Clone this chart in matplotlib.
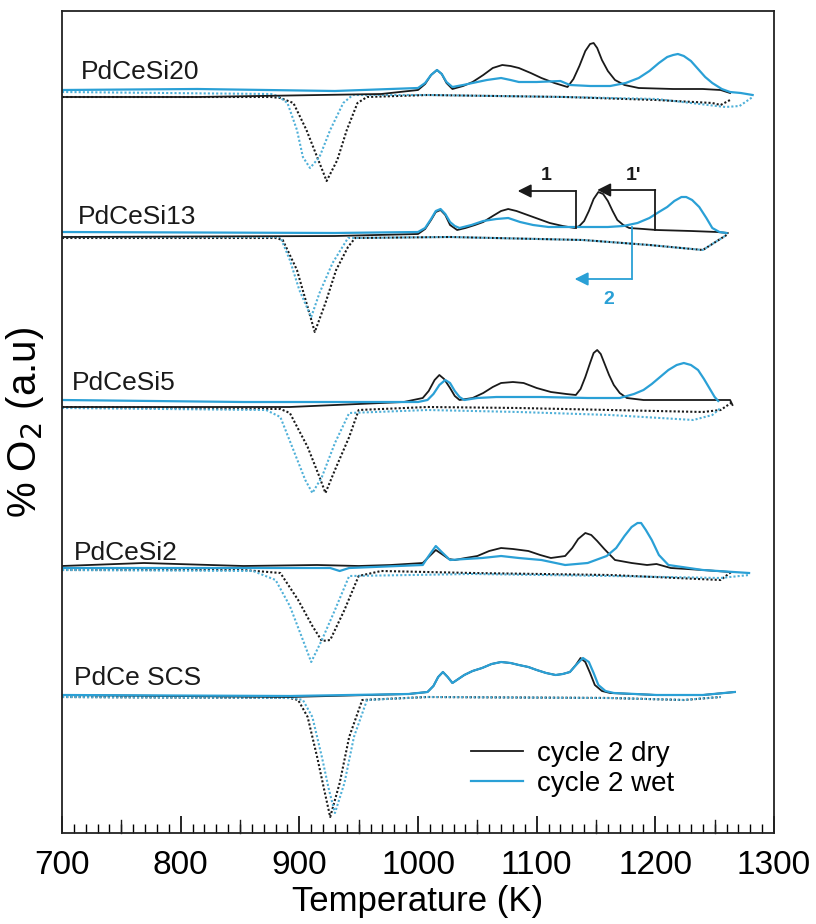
import matplotlib
matplotlib.use('Agg')
import matplotlib.pyplot as plt
from matplotlib.lines import Line2D
from matplotlib.ticker import MultipleLocator

plt.rcParams['font.family'] = ['Liberation Sans', 'DejaVu Sans']

# temperature (K) and O2 signal (a.u., relative to each trace's baseline)
si20_dry_T = [700, 814, 969, 1000, 1006, 1011, 1016, 1020, 1024, 1029, 1038, 1046, 1055, 1063, 1071, 1078, 1085, 1095, 1104, 1115,
              1126, 1131, 1136, 1141, 1145, 1148, 1151, 1155, 1160, 1166, 1174, 1186, 1215, 1240, 1255, 1263]
si20_dry_v = [-4, -4, -1, 3, 9, 18, 23, 19, 10, 4, 7, 11, 18, 25, 28, 27, 25, 20, 15, 10,
              6, 14, 27, 42, 49, 50, 45, 33, 22, 13, 8, 5, 4, 4, 3, 0]
si20_wet_T = [700, 814, 930, 1000, 1006, 1011, 1016, 1020, 1024, 1029, 1038, 1046, 1058, 1070, 1078, 1085, 1100, 1120, 1128, 1145,
              1162, 1175, 1186, 1195, 1203, 1210, 1215, 1219, 1224, 1230, 1236, 1242, 1248, 1256, 1263, 1272, 1282]
si20_wet_v = [3, 4, 2, 5, 10, 18, 23, 19, 11, 6, 8, 10, 13, 15, 13, 11, 11, 12, 8, 7,
              7, 10, 15, 22, 30, 36, 38, 39, 37, 32, 24, 16, 10, 4, 1, 0, -2]
si20_dry_dot_T = [700, 876, 884, 895, 906, 915, 923, 932, 940, 949, 957, 1008, 1124, 1201, 1248, 1255, 1263]
si20_dry_dot_v = [-4, -4, -5, -10, -37, -64, -88, -67, -37, -10, -4, -2, -4, -7, -10, -12, -7]
si20_wet_dot_T = [700, 876, 882, 890, 898, 903, 909, 917, 926, 937, 945, 1008, 1124, 1201, 1259, 1271, 1282]
si20_wet_dot_v = [1, -1, -3, -10, -37, -64, -75, -64, -37, -10, -2, -2, -4, -6, -14, -13, -4]

si13_dry_T = [700, 930, 1000, 1006, 1011, 1015, 1019, 1023, 1027, 1033, 1040, 1048, 1055, 1063, 1070, 1076, 1083, 1090, 1097, 1104,
              1111, 1122, 1132, 1136, 1140, 1144, 1148, 1152, 1156, 1160, 1164, 1168, 1173, 1178, 1190, 1201, 1230, 1252, 1261]
si13_dry_v = [-2, -1, 1, 6, 15, 23, 25, 20, 10, 5, 7, 10, 13, 19, 24, 26, 24, 21, 18, 15,
              12, 9, 7, 9, 14, 24, 36, 43, 41, 34, 24, 15, 10, 7, 6, 5, 4, 3, 2]
si13_wet_T = [700, 930, 1000, 1006, 1011, 1015, 1019, 1023, 1027, 1031, 1035, 1045, 1055, 1066, 1076, 1086, 1097, 1110, 1139, 1160,
              1173, 1185, 1195, 1203, 1210, 1216, 1222, 1226, 1231, 1237, 1243, 1248, 1254, 1260]
si13_wet_v = [3, 2, 3, 7, 16, 24, 26, 21, 13, 9, 7, 10, 14, 16, 17, 13, 10, 8, 8, 8,
              9, 12, 17, 23, 28, 34, 38, 38, 35, 28, 17, 7, 3, 2]
si13_dry_dot_T = [700, 880, 886, 898, 906, 913, 922, 931, 941, 947, 1027, 1139, 1195, 1240, 1260]
si13_dry_dot_v = [-3, -3, -5, -35, -68, -97, -68, -35, -12, -3, -2, -5, -10, -15, 0]
si13_wet_dot_T = [700, 878, 884, 892, 900, 910, 917, 928, 941, 1027, 1139, 1195, 1240, 1260]
si13_wet_dot_v = [-2, -2, -2, -25, -55, -82, -58, -28, -3, -2, -5, -10, -15, 0]

si5_dry_T = [700, 892, 988, 1004, 1009, 1014, 1018, 1022, 1027, 1031, 1035, 1046, 1055, 1063, 1070, 1080, 1089, 1100, 1112, 1125,
             1133, 1137, 1141, 1145, 1148, 1151, 1154, 1157, 1161, 1165, 1170, 1176, 1190, 1201, 1240, 1263, 1265]
si5_dry_v = [-4, -4, 1, 5, 12, 23, 28, 24, 15, 7, 3, 5, 10, 16, 20, 21, 20, 15, 11, 9,
             8, 14, 26, 40, 50, 53, 49, 40, 28, 18, 10, 5, 3, 3, 3, 3, -2]
si5_wet_T = [700, 853, 1000, 1008, 1013, 1018, 1023, 1027, 1031, 1035, 1039, 1050, 1066, 1085, 1104, 1143, 1170, 1182, 1190, 1197,
             1204, 1211, 1218, 1224, 1230, 1236, 1241, 1246, 1250, 1253]
si5_wet_v = [3, 1, 1, 3, 9, 18, 23, 20, 12, 6, 3, 5, 6, 6, 6, 5, 5, 9, 13, 19,
             26, 33, 38, 40, 38, 33, 24, 14, 6, 2]
si5_dry_dot_T = [700, 884, 892, 907, 917, 922, 930, 942, 950, 1008, 1085, 1162, 1240, 1255, 1265]
si5_dry_dot_v = [-4, -6, -10, -44, -74, -90, -67, -34, -7, -4, -5, -7, -9, -7, 1]
si5_wet_dot_T = [700, 872, 884, 895, 905, 911, 919, 930, 942, 1008, 1085, 1162, 1232, 1248, 1255]
si5_wet_dot_v = [-5, -7, -14, -47, -77, -90, -74, -40, -10, -7, -9, -12, -17, -12, -5]

si2_dry_T = [700, 769, 853, 915, 950, 977, 1004, 1009, 1015, 1020, 1026, 1031, 1040, 1050, 1060, 1070, 1080, 1093, 1103, 1112,
             1124, 1130, 1135, 1141, 1146, 1151, 1157, 1166, 1180, 1193, 1201, 1213, 1240, 1263]
si2_dry_v = [2, 5, 2, 3, 2, 3, 5, 11, 18, 14, 9, 8, 10, 12, 17, 20, 19, 17, 13, 10,
             12, 20, 29, 35, 33, 27, 19, 8, 5, 3, 4, 0, -2, -4]
si2_wet_T = [700, 853, 926, 934, 942, 1004, 1009, 1015, 1020, 1027, 1040, 1054, 1070, 1085, 1104, 1124, 1143, 1159, 1167, 1174,
             1180, 1185, 1188, 1192, 1197, 1203, 1211, 1240, 1279]
si2_wet_v = [0, 0, 0, -3, 0, 3, 12, 22, 16, 8, 9, 10, 12, 10, 8, 3, 5, 12, 20, 32,
             41, 45, 45, 38, 28, 13, 3, -2, -5]
si2_dry_dot_T = [700, 853, 884, 899, 911, 919, 926, 938, 950, 969, 1046, 1162, 1255, 1265]
si2_dry_dot_v = [-2, -2, -5, -32, -58, -73, -72, -42, -8, -3, -5, -7, -12, -3]
si2_wet_dot_T = [700, 861, 880, 892, 903, 910, 919, 930, 942, 1046, 1162, 1255, 1279]
si2_wet_dot_v = [-2, -3, -12, -38, -72, -94, -72, -42, -8, -6, -8, -10, -7]

scs_dry_T = [700, 892, 992, 1008, 1013, 1017, 1021, 1025, 1029, 1034, 1039, 1046, 1054, 1062, 1070, 1078, 1085, 1093, 1100, 1108,
             1116, 1122, 1128, 1133, 1137, 1141, 1145, 1149, 1155, 1162, 1201, 1240, 1267]
scs_dry_v = [0, -2, 1, 3, 9, 18, 23, 18, 12, 16, 20, 24, 27, 31, 33, 32, 30, 28, 25, 22,
             20, 21, 23, 30, 37, 33, 22, 10, 4, 2, 0, 0, 3]
scs_wet_T = [700, 892, 992, 1008, 1013, 1017, 1021, 1025, 1029, 1034, 1039, 1046, 1054, 1062, 1070, 1078, 1085, 1093, 1100, 1108,
             1116, 1122, 1128, 1134, 1139, 1144, 1148, 1152, 1158, 1165, 1201, 1240, 1267]
scs_wet_v = [0, -1, 1, 3, 9, 18, 23, 18, 12, 16, 20, 24, 27, 31, 33, 32, 30, 28, 25, 22,
             20, 21, 23, 31, 37, 33, 22, 10, 4, 2, 0, 0, 3]
scs_dry_dot_T = [700, 892, 899, 907, 915, 921, 926, 934, 942, 953, 1008, 1162, 1224, 1255]
scs_dry_dot_v = [-2, -3, -5, -22, -62, -95, -122, -88, -42, -5, -2, -3, -5, -2]
scs_wet_dot_T = [700, 895, 903, 911, 919, 925, 930, 938, 946, 957, 1008, 1162, 1224, 1255]
scs_wet_dot_v = [-2, -3, -5, -22, -62, -95, -118, -88, -42, -5, -2, -3, -5, -2]

sample_names = ['PdCeSi20', 'PdCeSi13', 'PdCeSi5', 'PdCeSi2', 'PdCe SCS']
sample_offsets = [740, 598, 430, 265, 138]

traces = [
    (si20_dry_T, si20_dry_v, si20_wet_T, si20_wet_v, si20_dry_dot_T, si20_dry_dot_v, si20_wet_dot_T, si20_wet_dot_v),
    (si13_dry_T, si13_dry_v, si13_wet_T, si13_wet_v, si13_dry_dot_T, si13_dry_dot_v, si13_wet_dot_T, si13_wet_dot_v),
    (si5_dry_T, si5_dry_v, si5_wet_T, si5_wet_v, si5_dry_dot_T, si5_dry_dot_v, si5_wet_dot_T, si5_wet_dot_v),
    (si2_dry_T, si2_dry_v, si2_wet_T, si2_wet_v, si2_dry_dot_T, si2_dry_dot_v, si2_wet_dot_T, si2_wet_dot_v),
    (scs_dry_T, scs_dry_v, scs_wet_T, scs_wet_v, scs_dry_dot_T, scs_dry_dot_v, scs_wet_dot_T, scs_wet_dot_v),
]

BLACK = '#1a1a1a'
BLUE = '#2aa0d6'
DOT_BLUE = '#4fb0d8'

fig = plt.figure(figsize=(8.16, 9.24), dpi=100)
ax = fig.add_axes([62 / 816, 91 / 924, 712 / 816, 822 / 924])

for name, off, tr in zip(sample_names, sample_offsets, traces):
    dT, dv, wT, wv, ddT, ddv, wdT, wdv = tr
    ax.plot(ddT, [v + off for v in ddv], color=BLACK, lw=1.5, ls=(0, (1, 1)))
    ax.plot(wdT, [v + off for v in wdv], color=DOT_BLUE, lw=1.5, ls=(0, (1, 1)))
    ax.plot(dT, [v + off for v in dv], color=BLACK, lw=1.3)
    ax.plot(wT, [v + off for v in wv], color=BLUE, lw=1.6)

label_pos = [(716, 761), (713, 616), (708, 450), (710, 280), (710, 155)]
for name, (x, y) in zip(sample_names, label_pos):
    ax.text(x, y, name, fontsize=19, ha='left', va='center', color=BLACK)

# arrows on the PdCeSi13 trace
arrow_kw = dict(arrowstyle='-|>', lw=1.3, mutation_scale=20, shrinkA=0, shrinkB=0)
ax.plot([1133, 1133], [605, 642], color=BLACK, lw=1.3)
ax.annotate('', xy=(1084, 642), xytext=(1133, 642), arrowprops=dict(color=BLACK, **arrow_kw))
ax.text(1108, 657, '1', fontsize=14, fontweight='bold', ha='center', va='center', color=BLACK)
ax.plot([1200, 1200], [603, 643], color=BLACK, lw=1.3)
ax.annotate('', xy=(1151, 643), xytext=(1200, 643), arrowprops=dict(color=BLACK, **arrow_kw))
ax.text(1182, 657, "1'", fontsize=14, fontweight='bold', ha='center', va='center', color=BLACK)
ax.plot([1180, 1180], [606, 554], color=BLUE, lw=1.3)
ax.annotate('', xy=(1132, 554), xytext=(1180, 554), arrowprops=dict(color=BLUE, **arrow_kw))
ax.text(1161, 533, '2', fontsize=14, fontweight='bold', ha='center', va='center', color=BLUE)

handles = [Line2D([], [], color=BLACK, lw=1.3), Line2D([], [], color=BLUE, lw=1.6)]
ax.legend(handles, ['cycle 2 dry', 'cycle 2 wet'], loc='lower left', bbox_to_anchor=(0.574, 0.044),
          frameon=False, fontsize=20, handlelength=1.9, handletextpad=0.5, labelspacing=0.15,
          borderpad=0, borderaxespad=0)

ax.set_xlim(700, 1300)
ax.set_ylim(0, 822)
ax.set_yticks([])
ax.xaxis.set_major_locator(MultipleLocator(100))
ax.xaxis.set_minor_locator(MultipleLocator(10))
ax.tick_params(axis='x', which='major', direction='in', length=12, width=1.2, labelsize=24, pad=12)
ax.tick_params(axis='x', which='minor', direction='in', length=6.5, width=1.0)
for tx in range(750, 1300, 100):
    ax.plot([tx, tx], [0, 13], color=BLACK, lw=1.0, clip_on=False)
for sp in ax.spines.values():
    sp.set_linewidth(1.3)
    sp.set_color('#222222')

ax.set_xlabel('Temperature (K)', fontsize=25, labelpad=3)
ax.set_ylabel('% O$_2$ (a.u)', fontsize=29)
ax.yaxis.set_label_coords(-0.0225, 0.5)

fig.savefig('out.png', dpi=100)
